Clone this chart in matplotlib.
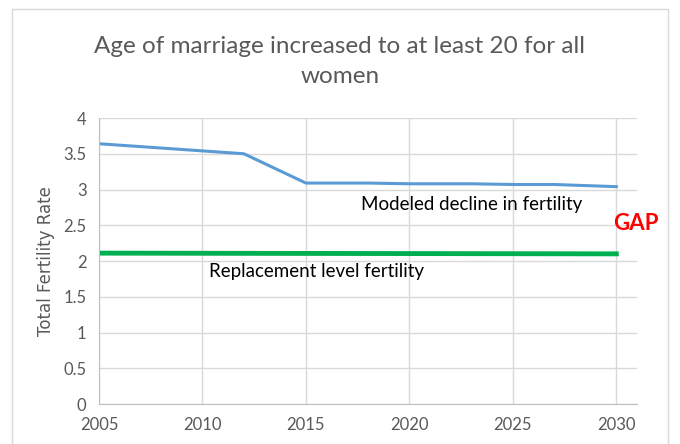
import matplotlib.pyplot as plt
from matplotlib.patches import Rectangle

years = [2005, 2012, 2015, 2018, 2020, 2023, 2025, 2027, 2028, 2030]
modeled = [3.64, 3.50, 3.09, 3.09, 3.08, 3.08, 3.07, 3.07, 3.06, 3.04]
repl_years = [2005, 2030]
replacement = [2.11, 2.10]

plt.rcParams['font.family'] = ['Lato', 'DejaVu Sans']

fig = plt.figure(figsize=(6.8, 4.44), dpi=100)
fig.patches.append(Rectangle((12 / 680, -0.1), 656 / 680, 1.08, transform=fig.transFigure,
                             fill=False, edgecolor='#d9d9d9', linewidth=1))
ax = fig.add_axes([99 / 680, 40 / 444, 538 / 680, 286 / 444])

ax.plot(years, modeled, color='#5b9bd5', linewidth=2.2)
ax.plot(repl_years, replacement, color='#00b050', linewidth=3.5)

ax.set_xlim(2005, 2031)
ax.set_ylim(0, 4)
ax.set_xticks([2005, 2010, 2015, 2020, 2025, 2030])
ax.set_yticks([0, 0.5, 1, 1.5, 2, 2.5, 3, 3.5, 4])
ax.set_yticklabels(['0', '0.5', '1', '1.5', '2', '2.5', '3', '3.5', '4'])
ax.grid(True, color='#d9d9d9', linewidth=1)
ax.set_axisbelow(True)
for s in ['top', 'right']:
    ax.spines[s].set_visible(False)
for s in ['left', 'bottom']:
    ax.spines[s].set_color('#bfbfbf')
ax.tick_params(length=0, colors='#595959', labelsize=12, pad=9)
ax.set_ylabel('Total Fertility Rate', fontsize=12, color='#595959', labelpad=6,
              family=['DejaVu Sans'])

fig.text(0.5, 0.862, 'Age of marriage increased to at least 20 for all\nwomen', ha='center', va='center',
         fontsize=17.5, color='#595959', linespacing=1.55)
ax.text(2023.0, 2.79, 'Modeled decline in fertility', ha='center', va='center', fontsize=13.5, color='black')
ax.text(2015.5, 1.86, 'Replacement level fertility', ha='center', va='center', fontsize=13.5, color='black')
ax.text(2029.85, 2.52, 'GAP', ha='left', va='center', fontsize=16, color='#ff0000',
        fontweight='bold', clip_on=False)

fig.savefig('out.png', dpi=100)
